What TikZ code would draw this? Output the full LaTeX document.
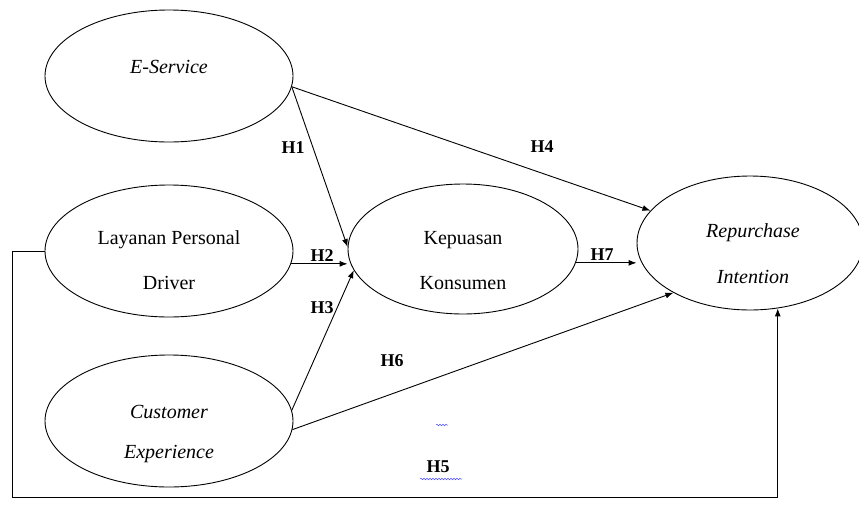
\documentclass[tikz,border=0pt]{standalone}
\usepackage{fontspec}
\setmainfont{Liberation Serif}
\usetikzlibrary{shapes.geometric,arrows.meta,decorations.pathmorphing}
\begin{document}
\begin{tikzpicture}[x=1pt,y=-1pt,
  var/.style={draw, ellipse, line width=0.9pt, inner sep=0pt},
  txt/.style={font=\fontsize{20}{24}\selectfont, inner sep=0pt},
  itxt/.style={font=\fontsize{20}{24}\selectfont\itshape, inner sep=0pt},
  hyp/.style={font=\fontsize{18}{22}\selectfont\bfseries, inner sep=0pt},
  arr/.style={line width=0.9pt, -{Latex[length=8pt,width=6pt]}},
  squig/.style={blue!70, line width=0.5pt, decorate, decoration={snake, amplitude=0.8pt, segment length=3pt}}]
\useasboundingbox (0,0) rectangle (859,509);
\fill[white] (0,0) rectangle (859,509);
% variables
\node[var, minimum width=248pt, minimum height=132pt] (es) at (169,76) {};
\node[var, minimum width=248pt, minimum height=132pt] (ld) at (169,251) {};
\node[var, minimum width=248pt, minimum height=132pt] (ce) at (169,421) {};
\node[var, minimum width=230pt, minimum height=130pt] (kp) at (463,249) {};
\node[var, minimum width=226pt, minimum height=134pt] (ri) at (750,243) {};
% texts
\node[itxt] (tes) at (169,67) {E-Service};
\node[txt] (tld1) at (169,240) {Layanan Personal};
\node[txt] (tld2) at (169,283) {Driver};
\node[itxt] (tce1) at (169,412) {Customer};
\node[itxt] (tce2) at (169,454) {Experience};
\node[txt] (tkp1) at (463,240) {Kepuasan};
\node[txt] (tkp2) at (463,283) {Konsumen};
\node[itxt] (tri1) at (753,233) {Repurchase};
\node[itxt] (tri2) at (753,277) {Intention};
% connectors
\draw[arr] (es.-5) -- (kp.179);
\draw[arr] (es.-5) -- (ri.162);
\draw[arr] (ld.-6) -- (ld.-6 -| kp.west);
\draw[arr] (ce.5) -- (kp.191);
\draw[arr] (ce.-4) -- (ri.213);
\draw[arr] (kp.-7) -- (kp.-7 -| ri.west);
\coordinate (lft) at (12,497);
\draw[arr] (ld.west) -| (lft) -| (ri.-67);
% hypothesis labels
\node[hyp] (h1) at (293,148) {H1};
\node[hyp] (h2) at (322,256) {H2};
\node[hyp] (h3) at (322,308) {H3};
\node[hyp] (h4) at (542,147) {H4};
\node[hyp] (h5) at (438,467) {H5};
\node[hyp] (h6) at (392,361) {H6};
\node[hyp] (h7) at (602,255) {H7};
% spell-check squiggles
\draw[squig] (420,479) -- (462,479);
\draw[squig] (436,425) -- (448,425);
\end{tikzpicture}
\end{document}
